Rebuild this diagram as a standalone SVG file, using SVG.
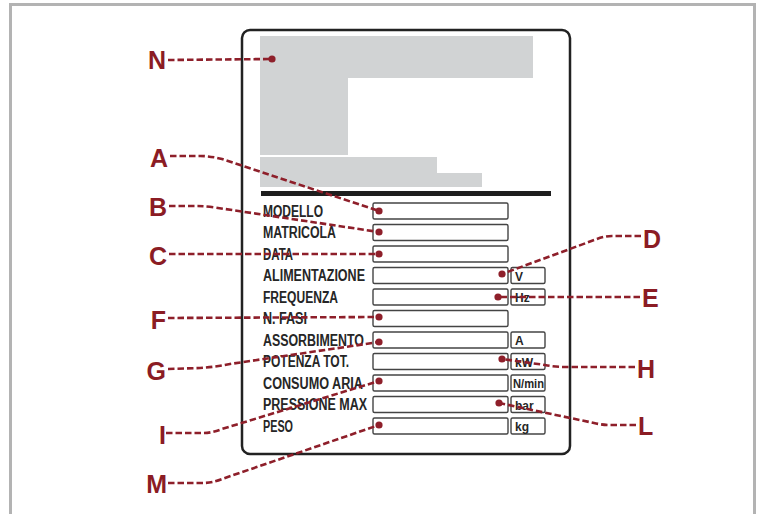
<svg xmlns="http://www.w3.org/2000/svg" width="758" height="514" viewBox="0 0 758 514">
<style>
.frame{fill:none;stroke:#b3b3b3;stroke-width:3}
.plate{fill:#fff;stroke:#222;stroke-width:2.5}
.gray{fill:#d1d3d4}
.fld{fill:#fff;stroke:#444;stroke-width:1.4}
.lbl{font-family:"Liberation Sans",Arial,sans-serif;font-weight:bold;font-size:16px;fill:#262626}
.unit{font-family:"Liberation Sans",Arial,sans-serif;font-weight:bold;font-size:12px;fill:#262626}
.key{font-family:"Liberation Sans",Arial,sans-serif;font-weight:bold;font-size:25px;fill:#8b1c24}
.ld{fill:none;stroke:#8e1f2a;stroke-width:2.6;stroke-dasharray:6.5 3}
.dot{fill:#8e1f2a}
</style>
<path class="frame" d="M10.5,514 V4.5 H754.5 V514"/>
<g id="plate">
<rect class="plate" x="242" y="30" width="328" height="424" rx="8"/>
<path class="gray" d="M260,36 H533 V78 H348 V155 H260 Z"/>
<path class="gray" d="M260,157 H437 V173 H482 V187 H260 Z"/>
<rect x="261" y="191" width="290" height="5" fill="#1e1e1e"/>
</g>
<g id="fields">
<rect class="fld" x="373" y="203" width="135" height="16" rx="1.5"/>
<rect class="fld" x="373" y="224.5" width="135" height="16" rx="1.5"/>
<rect class="fld" x="373" y="246" width="135" height="16" rx="1.5"/>
<rect class="fld" x="373" y="267.5" width="135" height="16" rx="1.5"/>
<rect class="fld" x="373" y="289" width="135" height="16" rx="1.5"/>
<rect class="fld" x="373" y="310.5" width="135" height="16" rx="1.5"/>
<rect class="fld" x="373" y="332" width="135" height="16" rx="1.5"/>
<rect class="fld" x="373" y="353.5" width="135" height="16" rx="1.5"/>
<rect class="fld" x="373" y="375" width="135" height="16" rx="1.5"/>
<rect class="fld" x="373" y="396.5" width="135" height="16" rx="1.5"/>
<rect class="fld" x="373" y="418" width="135" height="16" rx="1.5"/>
<rect class="fld" x="511" y="267.5" width="34" height="16" rx="1.5"/>
<rect class="fld" x="511" y="289" width="34" height="16" rx="1.5"/>
<rect class="fld" x="511" y="332" width="34" height="16" rx="1.5"/>
<rect class="fld" x="511" y="353.5" width="34" height="16" rx="1.5"/>
<rect class="fld" x="511" y="375" width="34" height="16" rx="1.5"/>
<rect class="fld" x="511" y="396.5" width="34" height="16" rx="1.5"/>
<rect class="fld" x="511" y="418" width="34" height="16" rx="1.5"/>
</g>
<g id="labels">
<text class="lbl" x="263" y="216.8" textLength="60" lengthAdjust="spacingAndGlyphs">MODELLO</text>
<text class="lbl" x="263" y="238.3" textLength="73" lengthAdjust="spacingAndGlyphs">MATRICOLA</text>
<text class="lbl" x="263" y="259.8" textLength="30" lengthAdjust="spacingAndGlyphs">DATA</text>
<text class="lbl" x="263" y="281.3" textLength="102" lengthAdjust="spacingAndGlyphs">ALIMENTAZIONE</text>
<text class="lbl" x="263" y="302.8" textLength="75" lengthAdjust="spacingAndGlyphs">FREQUENZA</text>
<text class="lbl" x="263" y="324.3" textLength="44" lengthAdjust="spacingAndGlyphs">N. FASI</text>
<text class="lbl" x="263" y="345.8" textLength="101" lengthAdjust="spacingAndGlyphs">ASSORBIMENTO</text>
<text class="lbl" x="263" y="367.3" textLength="86" lengthAdjust="spacingAndGlyphs">POTENZA TOT.</text>
<text class="lbl" x="263" y="388.8" textLength="100" lengthAdjust="spacingAndGlyphs">CONSUMO ARIA</text>
<text class="lbl" x="263" y="410.3" textLength="104" lengthAdjust="spacingAndGlyphs">PRESSIONE MAX</text>
<text class="lbl" x="263" y="431.8" textLength="30" lengthAdjust="spacingAndGlyphs">PESO</text>
<text class="unit" x="515" y="280.5">V</text>
<text class="unit" x="515" y="302">Hz</text>
<text class="unit" x="515" y="345">A</text>
<text class="unit" x="515" y="366.5">kW</text>
<text class="unit" x="513" y="388" textLength="31" lengthAdjust="spacingAndGlyphs">N/min</text>
<text class="unit" x="515" y="409.5">bar</text>
<text class="unit" x="515" y="431">kg</text>
</g>
<g id="connectors">
<path class="ld" d="M168,60 L272,59"/>
<path class="ld" d="M170,156 L200,156 Q210,156 222,159 L379,211"/>
<path class="ld" d="M169,206 L197,206 Q205,206 215,207.5 L379,232"/>
<path class="ld" d="M169,254 L379,254"/>
<path class="ld" d="M641,236 L612,236 Q605,236 597,239 L502,274"/>
<path class="ld" d="M640,297 L498,297"/>
<path class="ld" d="M168,318 L379,317"/>
<path class="ld" d="M168,369 L200,368 Q215,367 230,364 L379,342"/>
<path class="ld" d="M635,367 L565,367 Q555,367 545,365 L502,359"/>
<path class="ld" d="M166,433 L203,433 Q212,433 222,429 L379,381"/>
<path class="ld" d="M636,425 L610,425 Q602,425 594,423 L499,403"/>
<path class="ld" d="M168,483 L203,483 Q212,483 222,479 L379,425"/>
<circle class="dot" cx="272" cy="59" r="3.6"/>
<circle class="dot" cx="379" cy="211" r="3.6"/>
<circle class="dot" cx="379" cy="232" r="3.6"/>
<circle class="dot" cx="379" cy="254" r="3.6"/>
<circle class="dot" cx="502" cy="274" r="3.6"/>
<circle class="dot" cx="498" cy="297" r="3.6"/>
<circle class="dot" cx="379" cy="317" r="3.6"/>
<circle class="dot" cx="379" cy="342" r="3.6"/>
<circle class="dot" cx="502" cy="359" r="3.6"/>
<circle class="dot" cx="379" cy="381" r="3.6"/>
<circle class="dot" cx="499" cy="403" r="3.6"/>
<circle class="dot" cx="379" cy="425" r="3.6"/>
</g>
<g id="keys">
<text class="key" x="166" y="69" text-anchor="end">N</text>
<text class="key" x="168" y="167" text-anchor="end">A</text>
<text class="key" x="167" y="216" text-anchor="end">B</text>
<text class="key" x="167" y="265" text-anchor="end">C</text>
<text class="key" x="643" y="248">D</text>
<text class="key" x="642" y="307">E</text>
<text class="key" x="166" y="329" text-anchor="end">F</text>
<text class="key" x="166" y="379.5" text-anchor="end">G</text>
<text class="key" x="637" y="378">H</text>
<text class="key" x="166" y="444" text-anchor="end">I</text>
<text class="key" x="638" y="435">L</text>
<text class="key" x="167" y="493" text-anchor="end">M</text>
</g>
</svg>
